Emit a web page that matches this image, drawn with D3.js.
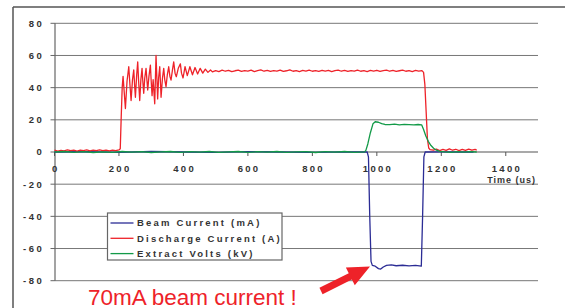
<!DOCTYPE html>
<html>
<head>
<meta charset="utf-8">
<script src="https://cdn.jsdelivr.net/npm/d3@7"></script>
<style>
  body { margin: 0; background: #fff; overflow: hidden; }
  svg { display: block; }
  text { font-family: "Liberation Sans", Arial, sans-serif; }
</style>
</head>
<body>
<div id="chart"></div>
<script>
// ---- data (time in us, value) ----
const beamCurrent = [
  [0, 0], [100, 0.2], [200, -0.2], [300, 0.3], [400, 0], [500, -0.2], [600, 0.2], [700, 0],
  [800, -0.2], [900, 0.1], [970, 0], [974, -3], [978, -40], [982, -68], [986, -70.5],
  [995, -71], [1005, -72.5], [1012, -72.8], [1020, -71.5], [1030, -70.5], [1045, -70.2],
  [1060, -70.7], [1080, -70.4], [1100, -70.8], [1120, -70.5], [1138, -70.9], [1142, -40],
  [1146, -3], [1150, 0], [1200, 0.1], [1250, 0], [1300, 0]
];

const dischargeCurrent = [
  [0, 1.2], [10, 0.6], [20, 1.0], [30, 0.7], [40, 1.3], [50, 0.8], [60, 1.1], [70, 0.6],
  [80, 1.2], [90, 0.9], [100, 1.3], [110, 0.7], [120, 1.1], [130, 0.8], [140, 1.3], [150, 0.9],
  [160, 1.2], [170, 0.7], [180, 1.1], [190, 0.9], [200, 1.3], [204, 2],
  [207, 22], [210, 40], [212.7, 47], [216, 38], [220, 27], [225, 44], [230.4, 53], [234, 42],
  [237.6, 32], [242, 45], [245.9, 51], [249, 40], [251, 34], [255, 48], [258.2, 56], [261, 44],
  [264.4, 32], [268, 45], [271.6, 52], [274, 44], [276.8, 36.5], [280, 46], [284, 52], [287, 44],
  [289.2, 38.5], [293, 47], [297.5, 54], [300, 44], [302.7, 35], [306, 45], [310.9, 30], [315, 60],
  [320, 33], [323, 46], [326.5, 53], [329, 42], [330.6, 34], [335, 46], [338.9, 52], [342, 45],
  [346, 40.6], [350, 48], [354.3, 53], [358, 47], [361.5, 44.7], [366, 51], [369.8, 56], [374, 49],
  [378, 46.8], [384, 52], [390.5, 54.8], [394, 49], [398.8, 46], [405, 53], [412, 47.5],
  [420, 53], [428, 48], [436, 52.5], [444, 48.5], [452, 52], [460, 49], [468, 51.5], [476, 49.5],
  [484, 51], [490, 49.8],
  [500, 50.6], [510, 50.0], [520, 50.9], [530, 50.2], [540, 50.7], [550, 49.9], [560, 50.5],
  [570, 50.9], [580, 50.1], [590, 50.6], [600, 50.3], [610, 50.9], [620, 50.0], [630, 50.6],
  [640, 51.0], [650, 50.2], [660, 50.7], [670, 50.1], [680, 50.6], [690, 50.3], [700, 50.9],
  [710, 50.1], [720, 50.5], [730, 51.0], [740, 50.2], [750, 50.6], [760, 50.0], [770, 50.7],
  [780, 50.3], [790, 50.9], [800, 50.2], [810, 50.6], [820, 50.1], [830, 50.8], [840, 50.3],
  [850, 50.7], [860, 50.0], [870, 50.6], [880, 50.9], [890, 50.2], [900, 50.7], [910, 50.1],
  [920, 50.6], [930, 50.3], [940, 50.9], [950, 50.2], [960, 50.6], [970, 50.0], [980, 50.7],
  [990, 50.3], [1000, 50.8], [1010, 50.1], [1020, 50.6], [1030, 50.9], [1040, 50.2],
  [1050, 50.7], [1060, 50.1], [1070, 50.5], [1080, 50.9], [1090, 50.2], [1100, 50.6],
  [1110, 50.0], [1120, 50.7], [1130, 50.3], [1140, 50.6], [1145, 49.5],
  [1149, 42], [1153, 25], [1157, 8], [1161, 2.5], [1165, 1.5], [1175, 1.1], [1185, 1.8],
  [1195, 0.9], [1205, 1.6], [1215, 1.0], [1225, 1.9], [1235, 1.1], [1245, 1.7], [1255, 0.9],
  [1265, 1.6], [1275, 1.0], [1285, 1.8], [1295, 1.1], [1305, 1.6], [1310, 1.2]
];

const extractVolts = [
  [0, 0], [30, 0.3], [60, -0.2], [90, 0.2], [120, -0.3], [150, 0.1], [180, -0.2], [210, 0.3],
  [240, -0.1], [270, 0.2], [300, -0.3], [330, 0.1], [360, 0.3], [390, -0.2], [420, 0.2],
  [450, -0.1], [480, 0.3], [510, -0.2], [540, 0.1], [570, 0.3], [600, -0.2], [630, 0.2],
  [660, -0.1], [690, 0.3], [720, -0.2], [750, 0.1], [780, 0.2], [810, -0.3], [840, 0.2],
  [870, -0.1], [900, 0.3], [930, -0.2], [962, 0.1],
  [966, 1], [972, 5], [980, 12], [988, 17.5], [995, 18.8], [1005, 18.5], [1015, 17.6],
  [1025, 17.1], [1040, 17.0], [1055, 17.3], [1070, 16.9], [1085, 17.2], [1100, 17.0],
  [1115, 16.8], [1128, 17.1], [1139, 16.9], [1145, 14], [1152, 10], [1160, 6.5], [1168, 4],
  [1176, 2.3], [1185, 1.1], [1195, 0.4], [1210, 0.1], [1230, -0.2], [1250, 0.2], [1270, -0.1],
  [1290, 0.2], [1310, 0]
];

const seriesNames = ["Beam Current (mA)", "Discharge Current (A)", "Extract Volts (kV)"];
const seriesColors = ["#2b2c95", "#ee2229", "#139a48"];
const seriesData = [beamCurrent, dischargeCurrent, extractVolts];

const xTicks = [0, 200, 400, 600, 800, 1000, 1200, 1400];
const yTicks = [-80, -60, -40, -20, 0, 20, 40, 60, 80];

const W = 565, H = 308;

const svg = d3.select("#chart").append("svg")
  .attr("width", W)
  .attr("height", H);

const x = d3.scaleLinear().domain([0, 1500]).range([54.5, 538]);
const y = d3.scaleLinear().domain([-80, 80]).range([280.7, 23.3]);

// outer frame: only the top and left edges are inside the picture
const frame = svg.append("g")
  .attr("stroke", "#555")
  .attr("stroke-width", 1.5);
frame.append("line")
  .attr("x1", 13).attr("x2", W)
  .attr("y1", 7).attr("y2", 7);
frame.append("line")
  .attr("x1", 13).attr("x2", 13)
  .attr("y1", 7).attr("y2", H);

// horizontal gridlines
svg.append("g")
  .selectAll("line")
  .data(yTicks.filter(d => d !== 0))
  .join("line")
    .attr("x1", 55).attr("x2", 538)
    .attr("y1", d => y(d)).attr("y2", d => y(d))
    .attr("stroke", "#777")
    .attr("stroke-width", 1);

// y axis
const yAxis = svg.append("g");
yAxis.append("line")
  .attr("x1", 55).attr("x2", 55)
  .attr("y1", y(80)).attr("y2", y(-80))
  .attr("stroke", "#666").attr("stroke-width", 1.2);
yAxis.selectAll("line.tick")
  .data(yTicks)
  .join("line")
    .attr("class", "tick")
    .attr("x1", 50.5).attr("x2", 55)
    .attr("y1", d => y(d)).attr("y2", d => y(d))
    .attr("stroke", "#666");
yAxis.selectAll("text")
  .data(yTicks)
  .join("text")
    .attr("x", 44.3)
    .attr("y", d => y(d) + 3.4)
    .attr("text-anchor", "end")
    .attr("font-size", 9.5)
    .attr("font-weight", "bold")
    .attr("letter-spacing", 2.5)
    .attr("fill", "#333")
    .text(d => d);

// x axis on the zero line
const xAxis = svg.append("g");
xAxis.append("line")
  .attr("x1", 55).attr("x2", 538)
  .attr("y1", y(0)).attr("y2", y(0))
  .attr("stroke", "#555").attr("stroke-width", 1.2);
xAxis.selectAll("line.tick")
  .data(xTicks)
  .join("line")
    .attr("class", "tick")
    .attr("x1", d => x(d)).attr("x2", d => x(d))
    .attr("y1", y(0)).attr("y2", y(0) + 4)
    .attr("stroke", "#555");
xAxis.selectAll("text")
  .data(xTicks)
  .join("text")
    .attr("x", d => x(d) + 1.2)
    .attr("y", 172.3)
    .attr("text-anchor", "middle")
    .attr("font-size", 9.5)
    .attr("font-weight", "bold")
    .attr("letter-spacing", 2.3)
    .attr("fill", "#333")
    .text(d => d);

svg.append("text")
  .attr("x", 536)
  .attr("y", 182.5)
  .attr("text-anchor", "end")
  .attr("font-size", 9)
  .attr("font-weight", "bold")
  .attr("letter-spacing", 1)
  .attr("fill", "#333")
  .text("Time (us)");

// series lines
const line = d3.line()
  .x(d => x(d[0]))
  .y(d => y(d[1]));

svg.append("g")
  .selectAll("path")
  .data(seriesData)
  .join("path")
    .attr("d", d => line(d))
    .attr("fill", "none")
    .attr("stroke", (d, i) => seriesColors[i])
    .attr("stroke-width", 1.3)
    .attr("stroke-linejoin", "round");

// legend
const legend = svg.append("g").attr("transform", "translate(107.5,213)");
legend.append("rect")
  .attr("width", 174.5).attr("height", 47)
  .attr("fill", "#fff")
  .attr("stroke", "#666")
  .attr("stroke-width", 1.2);
const item = legend.selectAll("g.item")
  .data(seriesNames)
  .join("g")
    .attr("class", "item")
    .attr("transform", (d, i) => `translate(0,${10 + i * 15.3})`);
item.append("line")
  .attr("x1", 3).attr("x2", 26)
  .attr("stroke", (d, i) => seriesColors[i])
  .attr("stroke-width", 1.3);
item.append("text")
  .attr("x", 29.5).attr("y", 3.4)
  .attr("font-size", 9.5)
  .attr("font-weight", "bold")
  .attr("letter-spacing", 2.2)
  .attr("fill", "#333")
  .text(d => d);

// annotation
svg.append("text")
  .attr("x", 88)
  .attr("y", 304.5)
  .attr("font-size", 22.5)
  .attr("fill", "#ee2229")
  .text("70mA beam current !");

const tail = [321, 291], tip = [370, 266.5];
const ang = Math.atan2(tip[1] - tail[1], tip[0] - tail[0]);
const headLen = 22, headW = 10, shaftW = 3.5;
const ux = Math.cos(ang), uy = Math.sin(ang), px = -uy, py = ux;
const base = [tip[0] - ux * headLen, tip[1] - uy * headLen];
const arrowPts = [
  [tail[0] + px * shaftW, tail[1] + py * shaftW],
  [base[0] + px * shaftW, base[1] + py * shaftW],
  [base[0] + px * headW, base[1] + py * headW],
  tip,
  [base[0] - px * headW, base[1] - py * headW],
  [base[0] - px * shaftW, base[1] - py * shaftW],
  [tail[0] - px * shaftW, tail[1] - py * shaftW]
];
svg.append("path")
  .attr("d", d3.line()(arrowPts) + "Z")
  .attr("fill", "#ee2229");
</script>
</body>
</html>
